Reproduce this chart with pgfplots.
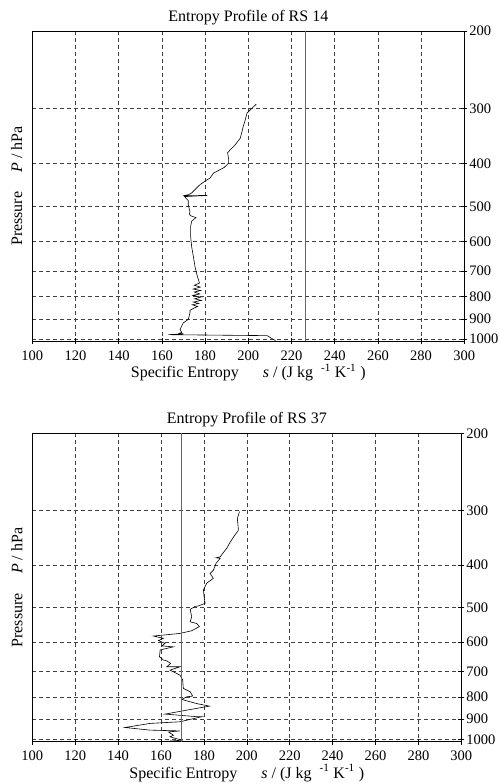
\documentclass[border=0pt]{standalone}
\usepackage{fontspec}
\setmainfont{Liberation Serif}
\usepackage{pgfplots}
\pgfplotsset{compat=1.18}
\usepackage{pgfplotstable}

\pgfplotstableread{
s P
203.7 293
201.5 300
199.4 307
198.6 318
197.6 330
197.1 338
196.3 350
194.0 362
191.6 372
190.4 378
190.9 390
190.9 399
188.8 408
183.9 420
182.3 431
180.0 438
177.7 446
175.3 458
173.8 466
172.5 470
169.9 473
181.1 472
170.5 475
172.2 485
172.2 496
173.0 514
172.7 520
173.3 525
175.8 530
173.8 540
173.3 555
173.3 570
173.3 585
173.8 618
174.6 651
175.3 684
176.4 720
177.4 746
175.0 755
177.8 762
174.5 770
178.0 776
175.0 782
177.5 790
174.3 796
177.9 803
175.2 810
178.3 817
174.6 824
177.0 830
174.1 836
176.5 843
175.0 850
173.0 860
173.0 872
172.2 902
169.9 919
168.4 951
169.2 966
168.0 970
170.0 973
163.0 977
208.7 982
212.6 1008
}\rsA

\pgfplotstableread{
s P
196.6 302
195.6 313
196.1 333
193.8 345
191.9 357
190.7 366
188.8 376
187.6 383
185.7 385
187.6 386
185.7 396
184.4 411
182.9 418
184.4 429
182.1 437
181.3 440
179.8 456
180.1 473
180.6 489
177.4 496
175.9 497
173.6 505
174.3 525
173.6 539
176.7 544
177.9 553
174.3 565
168.9 573
156.5 581
161.1 588
158.8 595
161.9 604
160.3 612
165.8 615
159.6 625
159.3 648
161.1 659
162.7 662
164.5 671
162.7 683
168.9 683
164.2 695
168.9 714
170.1 732
170.4 765
173.6 779
174.8 797
171.9 800
169.7 811
176.7 829
182.6 840
172.0 858
161.9 876
176.7 888
179.0 888
168.9 912
154.9 920
143.2 940
154.9 953
168.9 957
163.5 962
165.8 979
164.2 987
169.7 1005
152.6 1019
}\rsB

\pgfplotsset{
  entropy/.style={
    scale only axis,
    xmin=100, xmax=300,
    y dir=reverse,
    xtick={100,120,...,300},
    ytick={200,300,400,500,600,700,800,900,1000},
    yticklabels={200,300,400,500,600,700,800,900,1000},
    yminorticks=false,
    xtick pos=bottom, ytick pos=right,
    yticklabel pos=right,
    tick align=center,
    major tick length=6pt,
    tick style={black, line width=0.5pt},
    grid=major,
    major grid style={black!75, line width=0.6pt, dash pattern=on 4pt off 3pt},
    axis line style={black, line width=0.7pt},
    /pgf/number format/assume math mode=true,
    tick label style={font=\fontsize{14.5}{15}\selectfont},
    xticklabel style={yshift=-3pt},
    yticklabel style={xshift=-1.5pt},
    title style={font=\fontsize{16}{17}\selectfont, yshift=-3pt},
    xlabel style={font=\fontsize{16}{17}\selectfont, yshift=3.5pt},
    xlabel={Specific Entropy\hspace{1.5em}\textit{s} / (J kg\hspace{0.5em}\textsuperscript{-1} K\textsuperscript{-1} )},
    ylabel={Pressure\hspace{1.2em}\textit{P} / hPa},
    every axis y label/.style={at={(axis description cs:-0.036,0.5)}, rotate=90, anchor=center, font=\fontsize{16}{17}\selectfont},
  }
}

\begin{document}
\begin{tikzpicture}
\useasboundingbox (0,0) rectangle (500pt,-784pt);
\begin{semilogyaxis}[entropy, width=432pt, height=310pt, ymin=200, ymax=1010,
  at={(32.3pt,-31pt)}, anchor=north west, title={Entropy Profile of RS 14}]
\addplot[black, line width=0.6pt, no marks] table[x=s, y=P] {\rsA};
\addplot[black!60, line width=1pt, no marks] coordinates {(226.5,200) (226.5,1010)};
\end{semilogyaxis}
\begin{semilogyaxis}[entropy, width=429pt, height=308.4pt, ymin=200, ymax=1013,
  at={(32.3pt,-433.3pt)}, anchor=north west, title={Entropy Profile of RS 37}]
\addplot[black, line width=0.6pt, no marks] table[x=s, y=P] {\rsB};
\addplot[black!60, line width=1pt, no marks] coordinates {(169.7,200) (169.7,1013)};
\end{semilogyaxis}
\end{tikzpicture}
\end{document}
